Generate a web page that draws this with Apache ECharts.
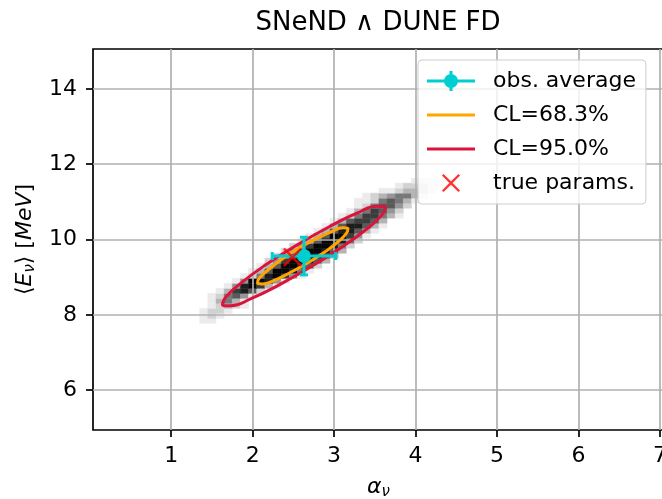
<!DOCTYPE html>
<html lang="en">
<head>
<meta charset="UTF-8">
<title>SNeND ∧ DUNE FD</title>
<script src="https://cdn.jsdelivr.net/npm/echarts@6/dist/echarts.min.js"></script>
<style>
    html, body {margin: 0; padding: 0; background: #fff;}
    #main {width: 662px; height: 499px;}
</style>
</head>
<body>
<div id="main"></div>
<script>
// tick values
var xTicks = [1, 2, 3, 4, 5, 6, 7];
var yTicks = [6, 8, 10, 12, 14];

// 2d histogram of the fit results: bin edges and darkness (0-9) per row
var histX0 = 1.35, histDX = 0.1;
var histY0 = 7.64, histDY = 0.133;
var histRowFirstCol = [0, 0, 0, 0, 1, 1, 1, 2, 3, 4, 5, 6, 7, 8, 9, 10, 11, 12, 13, 14, 15, 16, 17, 18, 19, 19, 20, 22, 24, 26];
var histRowLevels = [
    '', '11', '121', '1221', '12321', '13531', '125641', '137862', '1489731', '1499841',
    '12589741', '13699851', '13699862', '24799863', '24799863', '24799863', '24799852', '13699852', '13699741', '13688631',
    '13688631', '1367763', '12577531', '1357642', '1256642', '11256531', '12345531', '1123321', '122211', '1111'
];

// confidence contours
var cl68X = [2.67, 2.45, 2.26, 2.12, 2.06, 2.08, 2.19, 2.35, 2.56, 2.78, 2.97, 3.11, 3.17, 3.15, 3.05, 2.88, 2.67];
var cl68Y = [9.37, 9.11, 8.91, 8.82, 8.84, 8.97, 9.19, 9.46, 9.76, 10.02, 10.21, 10.31, 10.29, 10.16, 9.94, 9.66, 9.37];
var cl95X = [2.71, 2.32, 1.98, 1.73, 1.63, 1.67, 1.86, 2.17, 2.55, 2.94, 3.28, 3.53, 3.63, 3.59, 3.40, 3.09, 2.71];
var cl95Y = [9.27, 8.79, 8.43, 8.24, 8.26, 8.47, 8.85, 9.34, 9.86, 10.34, 10.70, 10.88, 10.87, 10.66, 10.28, 9.79, 9.27];

// observed average with errors, and the true parameters
var obsX = [2.63], obsY = [9.56], obsXErr = [0.39], obsYErr = [0.5];
var trueX = [2.49], trueY = [9.53];

var greys = ['#ffffff', '#ebebeb', '#d2d2d2', '#b4b4b4', '#969696', '#787878', '#5a5a5a', '#3c3c3c', '#1e1e1e', '#050505'];
var cyan = '#00ced1';
var font = 'DejaVu Sans';

var histData = [];
histRowLevels.forEach(function (row, j) {
    for (var i = 0; i < row.length; i++) {
        var lv = +row[i];
        if (lv > 0) histData.push([histX0 + (histRowFirstCol[j] + i) * histDX, histY0 + j * histDY, lv]);
    }
});

function zip(xs, ys) {
    return xs.map(function (x, i) { return [x, ys[i]]; });
}

var lineIcon = 'path://M0,0 M48,20 M0,8.5 L48,8.5 L48,11.5 L0,11.5 Z';
var obsIcon = 'path://M0,8.5 L48,8.5 L48,11.5 L0,11.5 Z M22.5,0 L25.5,0 L25.5,20 L22.5,20 Z M17,10 A7,7 0 1,1 31,10 A7,7 0 1,1 17,10 Z';
var xPath = 'M0,1.8 L1.8,0 L10,8.2 L18.2,0 L20,1.8 L11.8,10 L20,18.2 L18.2,20 L10,11.8 L1.8,20 L0,18.2 L8.2,10 Z';
var xIcon = 'path://M-1,-1 M21,21 ' + xPath;

var myChart = echarts.init(document.getElementById('main'));

var option = {
    animation: false,
    title: {
        text: 'SNeND ∧ DUNE FD',
        left: 378, top: 10, textAlign: 'center', padding: 0,
        textStyle: {fontFamily: font, fontSize: 26, fontWeight: 'normal', color: '#000'}
    },
    grid: {
        left: 93, top: 49, width: 571, height: 381,
        containLabel: false, outerBoundsMode: 'none',
        show: true, borderColor: '#000', borderWidth: 1.7, backgroundColor: 'transparent'
    },
    legend: {
        orient: 'vertical', left: 418, top: 60,
        padding: [10, 10, 10, 9],
        itemWidth: 48, itemHeight: 20, itemGap: 12,
        backgroundColor: 'rgba(255,255,255,0.8)',
        borderColor: '#cccccc', borderWidth: 1, borderRadius: 4,
        itemStyle: {borderWidth: 0},
        textStyle: {fontFamily: font, fontSize: 22, color: '#000', padding: [0, 0, 0, 13]},
        z: 10,
        data: [
            {name: 'obs. average', icon: obsIcon},
            {name: 'CL=68.3%', icon: lineIcon},
            {name: 'CL=95.0%', icon: lineIcon},
            {name: 'true params.', icon: xIcon}
        ]
    },
    xAxis: {
        type: 'value', min: 0.04, max: 7.05, z: 3,
        name: '{i|α}{s|ν}',
        nameLocation: 'middle', nameGap: 44,
        nameTextStyle: {
            rich: {
                i: {fontFamily: font, fontSize: 22, fontStyle: 'italic', color: '#000', lineHeight: 26},
                s: {fontFamily: font, fontSize: 15, fontStyle: 'italic', color: '#000', lineHeight: 12, verticalAlign: 'bottom'}
            }
        },
        axisLine: {show: false},
        axisTick: {length: 7, lineStyle: {color: '#000', width: 1.7}, customValues: xTicks},
        axisLabel: {fontFamily: font, fontSize: 22, color: '#000', margin: 15, customValues: xTicks},
        splitLine: {show: true, lineStyle: {color: '#b0b0b0', width: 1.7}}
    },
    yAxis: {
        type: 'value', min: 4.94, max: 15.06, z: 3,
        name: '{a|⟨}{i|E}{s|ν}{a|⟩ [}{i|MeV}{a|]}',
        nameLocation: 'middle', nameGap: 52, nameRotate: 90,
        nameTextStyle: {
            rich: {
                a: {fontFamily: font, fontSize: 22, color: '#000', lineHeight: 26},
                i: {fontFamily: font, fontSize: 22, fontStyle: 'italic', color: '#000', lineHeight: 26},
                s: {fontFamily: font, fontSize: 15, fontStyle: 'italic', color: '#000', lineHeight: 12, verticalAlign: 'bottom'}
            }
        },
        axisLine: {show: false},
        axisTick: {length: 7, lineStyle: {color: '#000', width: 1.7}, customValues: yTicks},
        axisLabel: {fontFamily: font, fontSize: 22, color: '#000', margin: 16, customValues: yTicks},
        splitLine: {show: true, lineStyle: {color: '#b0b0b0', width: 1.7}}
    },
    series: [
        {
            type: 'custom',
            name: 'hist',
            z: 2,
            encode: {x: 0, y: 1},
            data: histData,
            renderItem: function (params, api) {
                var p0 = api.coord([api.value(0), api.value(1) + histDY]);
                var p1 = api.coord([api.value(0) + histDX, api.value(1)]);
                var c = greys[api.value(2)];
                return {
                    type: 'rect',
                    shape: {x: p0[0], y: p0[1], width: p1[0] - p0[0], height: p1[1] - p0[1]},
                    style: {fill: c, stroke: c, lineWidth: 0.5}
                };
            }
        },
        {
            type: 'custom',
            name: 'obs. average',
            z: 5,
            itemStyle: {color: cyan},
            encode: {x: 0, y: 1},
            data: [[obsX[0], obsY[0], obsXErr[0], obsYErr[0]]],
            renderItem: function (params, api) {
                var x = api.value(0), y = api.value(1), ex = api.value(2), ey = api.value(3);
                var c = api.coord([x, y]);
                var l = api.coord([x - ex, y]), r = api.coord([x + ex, y]);
                var t = api.coord([x, y + ey]), b = api.coord([x, y - ey]);
                var ls = {stroke: cyan, lineWidth: 3};
                var cap = 4;
                return {
                    type: 'group',
                    children: [
                        {type: 'line', shape: {x1: l[0], y1: l[1], x2: r[0], y2: r[1]}, style: ls},
                        {type: 'line', shape: {x1: t[0], y1: t[1], x2: b[0], y2: b[1]}, style: ls},
                        {type: 'line', shape: {x1: l[0], y1: l[1] - cap, x2: l[0], y2: l[1] + cap}, style: ls},
                        {type: 'line', shape: {x1: r[0], y1: r[1] - cap, x2: r[0], y2: r[1] + cap}, style: ls},
                        {type: 'line', shape: {x1: t[0] - cap, y1: t[1], x2: t[0] + cap, y2: t[1]}, style: ls},
                        {type: 'line', shape: {x1: b[0] - cap, y1: b[1], x2: b[0] + cap, y2: b[1]}, style: ls},
                        {type: 'circle', shape: {cx: c[0], cy: c[1], r: 7}, style: {fill: cyan}}
                    ]
                };
            }
        },
        {
            type: 'line',
            name: 'CL=68.3%',
            z: 4,
            color: '#ffa500',
            smooth: true,
            symbol: 'none',
            lineStyle: {width: 3, color: '#ffa500'},
            data: zip(cl68X, cl68Y)
        },
        {
            type: 'line',
            name: 'CL=95.0%',
            z: 4,
            color: '#dc143c',
            smooth: true,
            symbol: 'none',
            lineStyle: {width: 3, color: '#dc143c'},
            data: zip(cl95X, cl95Y)
        },
        {
            type: 'scatter',
            name: 'true params.',
            z: 6,
            color: '#ff0000',
            symbol: 'path://' + xPath,
            symbolSize: 19,
            data: zip(trueX, trueY)
        }
    ]
};
myChart.setOption(option);
</script>
</body>
</html>
